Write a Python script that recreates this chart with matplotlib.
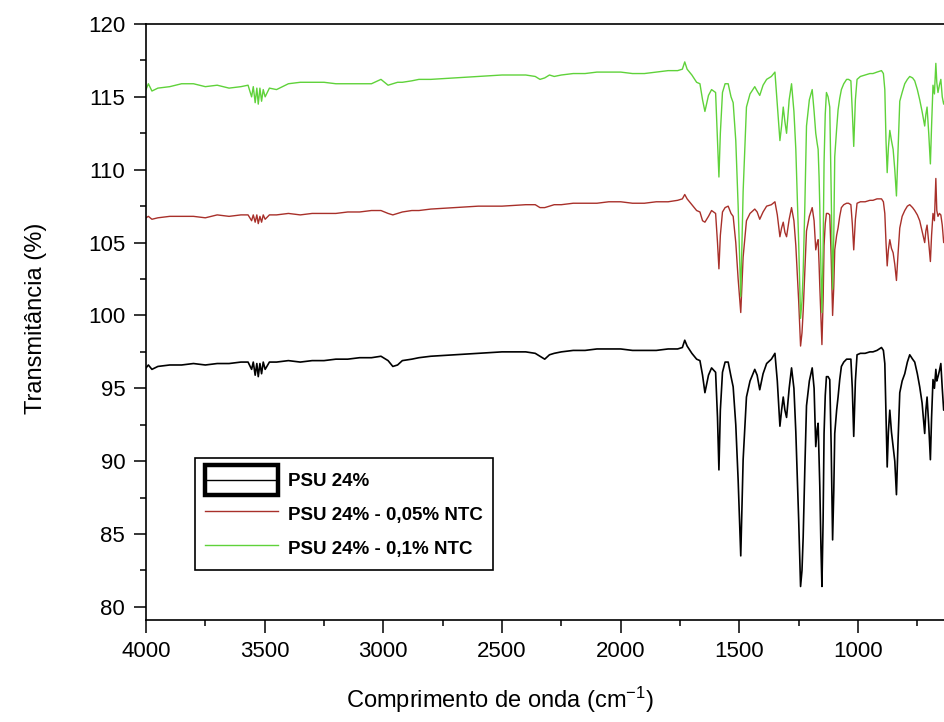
import matplotlib
matplotlib.use("Agg")
import matplotlib.pyplot as plt
from matplotlib.legend_handler import HandlerBase
from matplotlib.patches import Rectangle
from matplotlib.lines import Line2D
from matplotlib.ticker import MultipleLocator

plt.rcParams['font.family'] = ['Liberation Sans', 'DejaVu Sans']
plt.rcParams['mathtext.default'] = 'regular'

# ---------------- data ----------------
wavenumber = [
    4000, 3990, 3975, 3950, 3900, 3850, 3800, 3750, 3700, 3650, 3600, 3570,
    3555, 3548, 3540, 3533, 3527, 3520, 3513, 3506, 3498, 3480, 3450, 3400,
    3350, 3300, 3250, 3200, 3150, 3100, 3050, 3010, 2980, 2960, 2940, 2920,
    2880, 2850, 2800, 2700, 2600, 2500, 2400, 2360, 2340, 2320, 2300, 2280,
    2250, 2200, 2150, 2100, 2050, 2000, 1950, 1900, 1850, 1800, 1760, 1740,
    1730, 1720, 1700, 1680, 1666, 1655, 1645, 1630, 1617, 1600, 1592, 1586,
    1580, 1571, 1560, 1547, 1535, 1526, 1515, 1505, 1494, 1484, 1470, 1455,
    1435, 1425, 1414, 1400, 1385, 1365, 1350, 1340, 1329, 1322, 1315, 1308,
    1301, 1290, 1280, 1270, 1262, 1250, 1242, 1236, 1231, 1224, 1217, 1205,
    1193, 1185, 1178, 1172, 1168, 1164, 1161, 1156, 1152, 1147, 1143, 1138,
    1133, 1126, 1119, 1113, 1107, 1102, 1098, 1090, 1084, 1077, 1070, 1060,
    1048, 1040, 1030, 1024, 1018, 1011, 1004, 990, 970, 950, 937, 920,
    901, 893, 887, 882, 877, 872, 866, 859, 852, 845, 838, 831,
    824, 814, 803, 792, 782, 770, 761, 750, 740, 730, 719, 714,
    709, 702, 695, 690, 684, 678, 672, 668, 663, 657, 651, 645,
    639, 630,
]

psu24 = [
    96.4, 96.6, 96.3, 96.5, 96.6, 96.6, 96.7, 96.6, 96.7, 96.7, 96.8, 96.8,
    96.3, 96.8, 95.9, 96.7, 95.8, 96.7, 96.0, 96.8, 96.3, 96.8, 96.8, 96.9,
    96.8, 96.9, 96.9, 97.0, 97.0, 97.1, 97.1, 97.2, 96.9, 96.5, 96.6, 96.9,
    97.0, 97.1, 97.2, 97.3, 97.4, 97.5, 97.5, 97.4, 97.2, 97.0, 97.3, 97.4,
    97.5, 97.6, 97.6, 97.7, 97.7, 97.7, 97.6, 97.6, 97.6, 97.7, 97.7, 97.8,
    98.3, 97.9, 97.4, 97.0, 96.9, 95.9, 94.7, 95.9, 96.4, 96.1, 93.0, 89.4,
    93.5, 96.1, 96.8, 96.8, 95.8, 95.1, 92.5, 88.7, 83.5, 90.1, 94.4, 95.5,
    96.3, 95.9, 94.9, 96.0, 96.7, 97.0, 97.4, 95.5, 92.4, 93.5, 94.4, 93.5,
    93.0, 95.0, 96.4, 95.0, 92.0, 86.0, 81.4, 82.5, 84.8, 89.5, 93.8, 95.5,
    96.4, 95.0, 91.0, 92.2, 92.6, 90.0, 88.3, 84.0, 81.4, 86.0, 91.9, 94.5,
    95.8, 95.8, 95.6, 91.0, 84.6, 88.0, 91.9, 93.5, 94.4, 95.6, 96.5, 96.8,
    97.0, 97.0, 97.0, 95.0, 91.7, 95.5, 97.3, 97.4, 97.4, 97.5, 97.5, 97.6,
    97.8, 97.6, 96.7, 93.0, 89.6, 92.0, 93.5, 92.0, 91.0, 90.0, 87.7, 91.5,
    94.7, 95.5, 96.0, 96.8, 97.3, 97.0, 96.8, 96.0, 95.1, 94.0, 91.9, 93.5,
    94.4, 92.5, 90.1, 93.0, 95.6, 95.0, 96.3, 95.5, 95.8, 96.2, 96.7, 95.0,
    93.5, 94.5,
]

psu24_005ntc = [
    106.7, 106.8, 106.6, 106.7, 106.8, 106.8, 106.8, 106.7, 106.9, 106.8, 106.9, 106.9,
    106.5, 106.9, 106.4, 106.9, 106.3, 106.8, 106.4, 106.9, 106.6, 106.9, 106.9, 107.0,
    106.9, 107.0, 107.0, 107.0, 107.1, 107.1, 107.2, 107.2, 107.0, 106.9, 107.0, 107.1,
    107.2, 107.2, 107.3, 107.4, 107.5, 107.5, 107.6, 107.6, 107.4, 107.4, 107.5, 107.6,
    107.6, 107.7, 107.7, 107.7, 107.8, 107.8, 107.7, 107.7, 107.8, 107.8, 107.9, 108.0,
    108.3, 108.0, 107.6, 107.2, 107.1, 106.5, 106.4, 106.8, 107.2, 107.0, 105.0, 103.2,
    105.5, 107.1, 107.4, 107.5, 107.0, 106.8, 105.0, 102.5, 100.2, 104.0, 106.5, 107.0,
    107.3, 107.1, 106.6, 107.1, 107.5, 107.6, 107.8, 106.9, 105.4, 106.0, 106.4, 105.7,
    105.4, 106.6, 107.4, 106.5, 104.8, 101.0, 97.9, 98.8, 100.3, 103.0, 105.8, 106.8,
    107.4, 106.5, 104.5, 105.0, 105.2, 103.5, 102.0, 99.8, 98.0, 101.0, 104.8, 106.3,
    107.0, 107.0, 106.9, 104.0, 100.0, 102.0, 104.5, 105.5, 106.0, 106.8, 107.4, 107.6,
    107.7, 107.7, 107.6, 106.3, 104.5, 106.6, 107.7, 107.8, 107.8, 107.9, 107.9, 108.0,
    108.0, 107.8, 107.0, 105.0, 103.4, 104.5, 105.2, 104.6, 104.3, 103.5, 102.4, 104.3,
    106.0, 106.8, 107.2, 107.5, 107.6, 107.4, 107.2, 106.9, 106.5, 105.8, 105.0, 105.8,
    106.2, 105.0, 103.7, 105.5, 107.0, 106.5, 109.4, 107.2, 106.8, 107.0, 106.9, 106.2,
    105.0, 105.5,
]

psu24_01ntc = [
    115.5, 115.9, 115.4, 115.6, 115.7, 115.9, 115.9, 115.7, 115.8, 115.6, 115.7, 115.8,
    115.0, 115.7, 114.6, 115.6, 114.5, 115.6, 114.7, 115.5, 115.0, 115.6, 115.5, 115.9,
    116.0, 116.0, 116.0, 115.9, 115.9, 115.9, 115.9, 116.2, 115.8, 115.9, 116.0, 116.0,
    116.1, 116.2, 116.2, 116.3, 116.4, 116.5, 116.5, 116.4, 116.2, 116.3, 116.5, 116.4,
    116.5, 116.6, 116.6, 116.7, 116.7, 116.7, 116.6, 116.6, 116.7, 116.8, 116.8, 116.9,
    117.4, 116.9, 116.5, 116.0, 115.9, 114.8, 114.0, 115.1, 115.5, 115.3, 112.0, 109.5,
    112.5, 115.3, 115.9, 115.9, 115.0, 114.6, 112.0, 107.5, 101.3, 108.5, 114.3, 115.2,
    115.7, 115.4, 115.1, 115.8, 116.2, 116.4, 116.7, 114.5, 112.0, 113.0, 114.3, 113.3,
    112.5, 114.8, 115.9, 114.0, 111.4, 105.0, 99.8, 101.0, 103.0, 107.5, 113.0, 114.8,
    115.5, 114.0, 112.5, 111.8, 111.4, 109.5, 107.5, 103.0, 100.2, 104.5, 110.5, 113.8,
    115.3, 115.0, 114.3, 108.5, 101.8, 105.5, 110.9, 112.8, 114.1, 114.9, 115.5, 115.9,
    116.2, 116.2, 116.1, 114.0, 111.6, 114.8, 116.2, 116.4, 116.5, 116.6, 116.6, 116.7,
    116.8, 116.6, 115.5, 112.0, 109.8, 111.5, 112.7, 112.0, 111.4, 110.0, 108.2, 111.5,
    114.7, 115.3, 115.9, 116.2, 116.4, 116.3, 116.1, 115.5, 114.8, 114.0, 113.0, 113.8,
    114.3, 112.5, 110.4, 113.0, 115.8, 115.2, 117.3, 116.0, 115.3, 115.8, 116.2, 115.0,
    114.5, 115.0,
]

series_labels = ["PSU 24%", "PSU 24% - 0,05% NTC", "PSU 24% - 0,1% NTC"]
x_ticks = [4000, 3500, 3000, 2500, 2000, 1500, 1000]
y_ticks = [80, 85, 90, 95, 100, 105, 110, 115, 120]


class BoxLineHandler(HandlerBase):
    """Origin-style legend symbol: thick box with a line through it."""
    def create_artists(self, legend, orig_handle, xdescent, ydescent,
                       width, height, fontsize, trans):
        ext = 0.2 * fontsize
        rect = Rectangle((-xdescent, -ydescent - ext), width, height + 2 * ext,
                         facecolor='white', edgecolor='black', linewidth=3.2,
                         transform=trans)
        line = Line2D([-xdescent, -xdescent + width],
                      [-ydescent + height / 2] * 2,
                      color='black', linewidth=1.0, transform=trans)
        return [rect, line]


fig = plt.figure(figsize=(9.45, 7.22), dpi=100)
ax = fig.add_axes([146 / 945, 102 / 722, 801 / 945, 596 / 722])

l_black, = ax.plot(wavenumber, psu24, color='black', lw=1.2)
l_red, = ax.plot(wavenumber, psu24_005ntc, color='#a8302a', lw=1.0)
l_green, = ax.plot(wavenumber, psu24_01ntc, color='#5fd23a', lw=1.0)

ax.set_xlim(4000, 625)
ax.set_ylim(79.1, 120)
ax.set_xticks(x_ticks)
ax.set_yticks(y_ticks)
ax.xaxis.set_minor_locator(MultipleLocator(250))
ax.yaxis.set_minor_locator(MultipleLocator(2.5))
ax.tick_params(which='major', direction='out', length=9, width=1.1,
               labelsize=16, pad=6, top=False, right=False)
ax.tick_params(which='minor', direction='out', length=4.5, width=1.1,
               top=False, right=False)
for side in ('left', 'bottom', 'top'):
    ax.spines[side].set_linewidth(1.2)
ax.spines['right'].set_visible(False)

fig.text(500 / 945, 1 - 700 / 722, 'Comprimento de onda (cm$^{-1}$)',
         ha='center', va='center', fontsize=17)
fig.text(36 / 945, 1 - 318 / 722, 'Transmitância (%)', rotation=90,
         ha='center', va='center', fontsize=17)

leg = ax.legend([l_black, l_red, l_green], series_labels,
                handler_map={l_black: BoxLineHandler()},
                loc='upper left', bbox_to_anchor=(195 / 945, 1 - 458 / 722),
                bbox_transform=fig.transFigure, borderaxespad=0,
                prop={'weight': 'bold', 'size': 13.5},
                handlelength=3.9, handleheight=1.5, handletextpad=0.5,
                labelspacing=0.6, borderpad=0.55, fancybox=False,
                edgecolor='black', framealpha=1)
leg.get_frame().set_linewidth(1.2)

fig.savefig('out.png', dpi=100)
